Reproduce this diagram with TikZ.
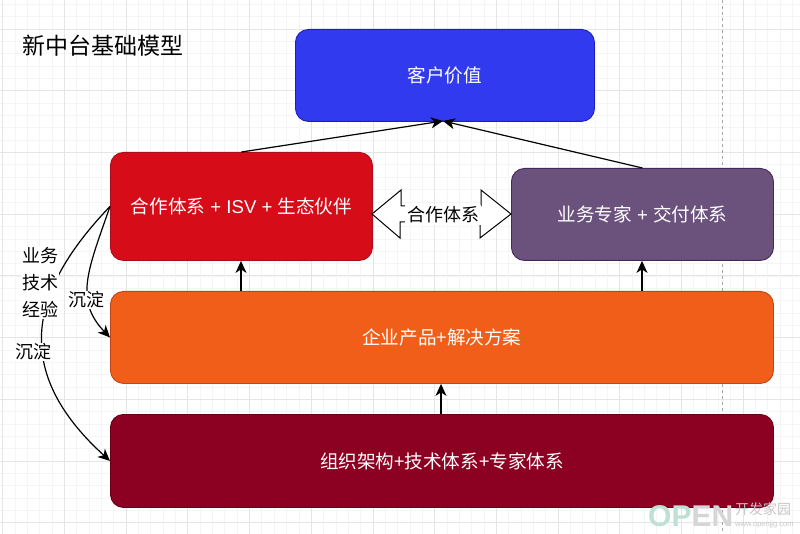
\documentclass[tikz,border=0pt]{standalone}
\usepackage{fontspec}
\setmainfont{Noto Sans CJK SC}
\newfontfamily\latinface{Liberation Sans}
\usetikzlibrary{arrows.meta,calc}
\definecolor{valueFill}{RGB}{50,58,240}
\definecolor{valueLine}{RGB}{30,30,190}
\definecolor{partnerFill}{RGB}{214,12,24}
\definecolor{partnerLine}{RGB}{170,15,30}
\definecolor{expertFill}{RGB}{107,82,125}
\definecolor{expertLine}{RGB}{66,42,92}
\definecolor{productFill}{RGB}{241,94,25}
\definecolor{productLine}{RGB}{190,70,25}
\definecolor{orgFill}{RGB}{140,0,34}
\definecolor{orgLine}{RGB}{105,0,25}
\definecolor{markGreen}{RGB}{190,225,212}
\tikzset{
  x=1pt,y=-1pt,
  block/.style n args={4}{draw=#1,fill=#2,minimum width=#3pt,minimum height=#4pt,line width=0.9pt,rounded corners=13pt,text=white,font=\fontsize{18.6}{20}\selectfont,inner sep=0pt,anchor=north west},
  link/.style={black,line width=1.2pt,-{Stealth[length=12pt,width=11pt,inset=3.5pt]}},
  caption/.style={text=black,font=\fontsize{18}{20}\selectfont,inner sep=1pt},
  tag/.style={caption,fill=white},
  finegrid/.style={draw=black!4,line width=0.5pt},
  coarsegrid/.style={draw=black!10,line width=0.6pt}
}
\begin{document}
\begin{tikzpicture}
\useasboundingbox (0,0) rectangle (800,534);
\fill[white] (0,0) rectangle (800,534);

% background grid
\foreach \i in {0,...,65} {
  \draw[finegrid] ({2.6+12.34*\i},0) -- ({2.6+12.34*\i},534);
}
\foreach \i in {-2,...,43} {
  \draw[finegrid] (0,{29+12.34*\i}) -- (800,{29+12.34*\i});
}
\foreach \i in {0,...,13} {
  \draw[coarsegrid] ({2.6+61.7*\i},0) -- ({2.6+61.7*\i},534);
}
\foreach \i in {0,...,8} {
  \draw[coarsegrid] (0,{29+61.7*\i}) -- (800,{29+61.7*\i});
}
\draw[black!35,line width=0.8pt,dashed] (722.5,0) -- (722.5,534);

% building blocks
\node[block={valueLine}{valueFill}{299}{92}] (value) at (295,29) {客户价值};
\node[block={partnerLine}{partnerFill}{262}{108}] (partner) at (110,152) {合作体系{\latinface\ + ISV + }生态伙伴};
\node[block={expertLine}{expertFill}{262}{92}] (expert) at (511,168) {业务专家{\latinface\ + }交付体系};
\node[block={productLine}{productFill}{663}{92}] (product) at (110,291) {企业产品+解决方案};
\node[block={orgLine}{orgFill}{663}{93}] (org) at (110,414) {组织架构+技术体系+专家体系};

% title
\node[text=black,font=\fontsize{23}{26}\selectfont,inner sep=0pt,anchor=west] (title) at (22,46) {新中台基础模型};

% arrows between the layers
\coordinate (valueIn) at (443,121);
\coordinate (colA) at (241,0);
\coordinate (colB) at (642,0);
\coordinate (colC) at (441,0);
\draw[link] (partner.north) -- (valueIn);
\draw[link] (expert.north) -- (valueIn);
\draw[link] (product.north -| colA) -- (partner.south -| colA);
\draw[link] (product.north -| colB) -- (expert.south -| colB);
\draw[link] (org.north -| colC) -- (product.south -| colC);

% hollow two-way arrow between partner and expert blocks
\coordinate (tipL) at (372,214);
\coordinate (tipR) at (511,214);
\draw[black,line width=1pt,fill=white,line join=miter]
  (tipL) -- ++(29,-24) -- ++(0,16) -- ++(80,0) -- ++(0,-16) -- (tipR)
  -- ++(-31,24) -- ++(0,-16) -- ++(-80,0) -- ++(0,16) -- cycle;
\node[tag,inner sep=0pt,minimum width=76.5pt,minimum height=20pt] (cooperate) at (443,215) {合作体系};

% curved links down the left side
\draw[link] (partner.west) .. controls (88,270) and (74,300) .. (product.west);
\draw[link] (partner.west) .. controls (30,290) and (10,370) .. (org.west);
\node[tag] (settleA) at (86,300) {沉淀};
\node[tag,align=center,text width=36pt,font=\fontsize{18}{27}\selectfont] (skills) at (40,283) {业务\\技术\\经验};
\node[tag] (settleB) at (34,352) {沉淀};

% corner mark
\node[text=markGreen,font=\latinface\bfseries\fontsize{30}{30}\selectfont,inner sep=0pt,anchor=west] (markA) at (648,516) {OP\textcolor{black!16}{EN}};
\node[text=black!22,font=\fontsize{14}{15}\selectfont,inner sep=0pt,anchor=west] (markB) at (735,509) {开发家园};
\node[text=black!22,font=\latinface\fontsize{7.5}{8}\selectfont,inner sep=0pt,anchor=west] (markC) at (735,525) {www.openjjg.com};
\end{tikzpicture}
\end{document}
